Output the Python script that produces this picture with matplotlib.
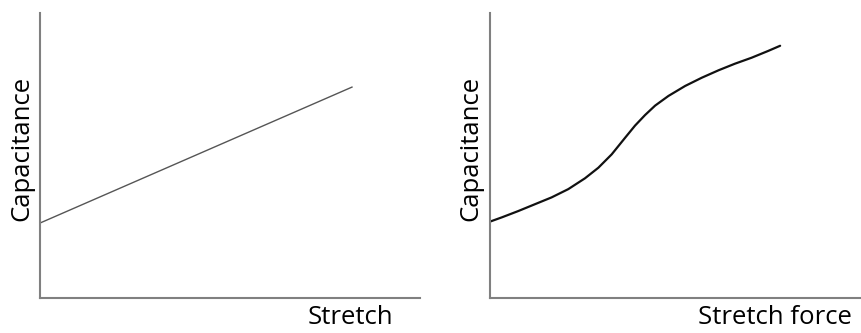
import numpy as np
import matplotlib.pyplot as plt

plt.rcParams['font.family'] = ['Open Sans', 'DejaVu Sans']

# panel 1: linear capacitance vs stretch
stretch_x = [0.0, 8.21]
cap_linear = [2.63, 7.40]

# panel 2: S-shaped capacitance vs stretch force
force_x = [0.00, 0.32, 0.76, 1.21, 1.66, 2.11, 2.56, 2.92, 3.28, 3.64, 3.91,
           4.18, 4.45, 4.81, 5.26, 5.71, 6.16, 6.60, 7.05, 7.50, 7.82]
cap_curve = [2.68, 2.83, 3.05, 3.29, 3.53, 3.82, 4.20, 4.57, 5.04, 5.62, 6.05,
             6.42, 6.75, 7.09, 7.44, 7.73, 7.99, 8.22, 8.43, 8.67, 8.85]

W, H = 861, 333
fig = plt.figure(figsize=(W / 100, H / 100), dpi=100)

ax1 = fig.add_axes([40 / W, 35 / H, 380 / W, 285 / H])
ax2 = fig.add_axes([490 / W, 35 / H, 371 / W, 285 / H])

ax1.plot(stretch_x, cap_linear, color='#555555', linewidth=1.0)
ax2.plot(force_x, cap_curve, color='#111111', linewidth=1.6,
         solid_joinstyle='round', solid_capstyle='round')

for ax in (ax1, ax2):
    ax.set_xlim(0, 10)
    ax.set_ylim(0, 10)
    ax.set_xticks([])
    ax.set_yticks([])
    ax.spines['top'].set_visible(False)
    ax.spines['right'].set_visible(False)
    ax.spines['left'].set_color('#808080')
    ax.spines['bottom'].set_color('#808080')
    ax.spines['left'].set_linewidth(1.5)
    ax.spines['bottom'].set_linewidth(1.5)

fs = 18.5
fig.text(22 / W, (H - 148) / H, 'Capacitance', rotation=90, ha='center', va='center', fontsize=fs)
fig.text(471 / W, (H - 148) / H, 'Capacitance', rotation=90, ha='center', va='center', fontsize=fs)
fig.text(350 / W, (H - 318) / H, 'Stretch', ha='center', va='center', fontsize=fs)
fig.text(775 / W, (H - 318) / H, 'Stretch force', ha='center', va='center', fontsize=fs)

fig.savefig('out.png', dpi=100)
